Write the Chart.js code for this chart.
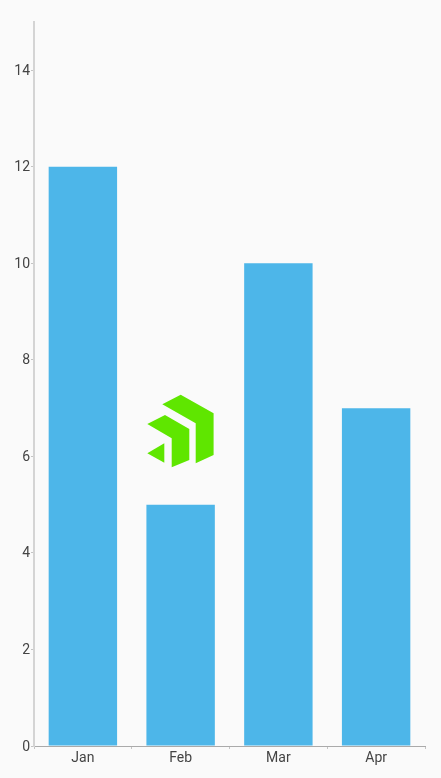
<!DOCTYPE html>
<html>
<head>
<meta charset="utf-8">
<style>
  html, body { margin: 0; padding: 0; background: #fafafa; }
  #wrap { width: 441px; height: 778px; }
</style>
<script src="https://cdn.jsdelivr.net/npm/chart.js@4"></script>
</head>
<body>
<div id="wrap"><canvas id="chart"></canvas></div>
<script>
const categories = ['Jan', 'Feb', 'Mar', 'Apr'];
const values = [12, 5, 10, 7];
const yTicks = [0, 2, 4, 6, 8, 10, 12, 14];

// logo in the middle of the chart, not data
const logoPlugin = {
  id: 'logo',
  beforeDraw(chart) {
    // Roboto sits a bit high on the y axis, push the labels down 1px
    chart.scales.y.getLabelItems().forEach(item => {
      item.options.translation = [item.options.translation[0], item.options.translation[1] + 1];
    });
  },
  afterDatasetsDraw(chart) {
    const c = chart.ctx;
    const shapes = [
      [[162.3, 404.3], [180.7, 394.7], [213.6, 413.3], [213.6, 455], [195.7, 463.3], [195.7, 423.3]],
      [[147.3, 424], [165, 415], [189.3, 429], [189.3, 460], [171.7, 467.3], [171.7, 438.3]],
      [[147.3, 453.3], [164.3, 443.3], [164.3, 462.7]]
    ];
    c.save();
    c.fillStyle = '#5fe600';
    shapes.forEach(s => {
      c.beginPath();
      s.forEach((p, i) => i ? c.lineTo(p[0], p[1]) : c.moveTo(p[0], p[1]));
      c.closePath();
      c.fill();
    });
    c.restore();
  }
};

new Chart(document.getElementById('chart'), {
  type: 'bar',
  data: {
    labels: categories,
    datasets: [{
      data: values,
      backgroundColor: '#4db6e9',
      borderWidth: 0,
      categoryPercentage: 1,
      barPercentage: 0.7
    }]
  },
  options: {
    responsive: true,
    maintainAspectRatio: false,
    animation: false,
    layout: { padding: { top: 22, right: 16, left: 0, bottom: 0 } },
    plugins: { legend: { display: false }, tooltip: { enabled: false } },
    scales: {
      x: {
        afterFit(s) { s.height = 32; },
        grid: { offset: true, drawOnChartArea: false, color: '#c4c4c4', tickLength: 3 },
        border: { color: '#aaaaaa', width: 1 },
        ticks: { color: '#444444', font: { family: 'Roboto', size: 14 }, padding: 1, maxRotation: 0 }
      },
      y: {
        min: 0,
        max: 15,
        afterFit(s) { s.width = 34; },
        afterBuildTicks(s) { s.ticks = yTicks.map(v => ({ value: v })); },
        grid: { drawOnChartArea: false, color: '#c4c4c4', tickLength: 3 },
        border: { color: '#d4d4d4', width: 2 },
        ticks: { color: '#444444', font: { family: 'Roboto', size: 14 }, padding: 1 }
      }
    }
  },
  plugins: [logoPlugin]
});
</script>
</body>
</html>
